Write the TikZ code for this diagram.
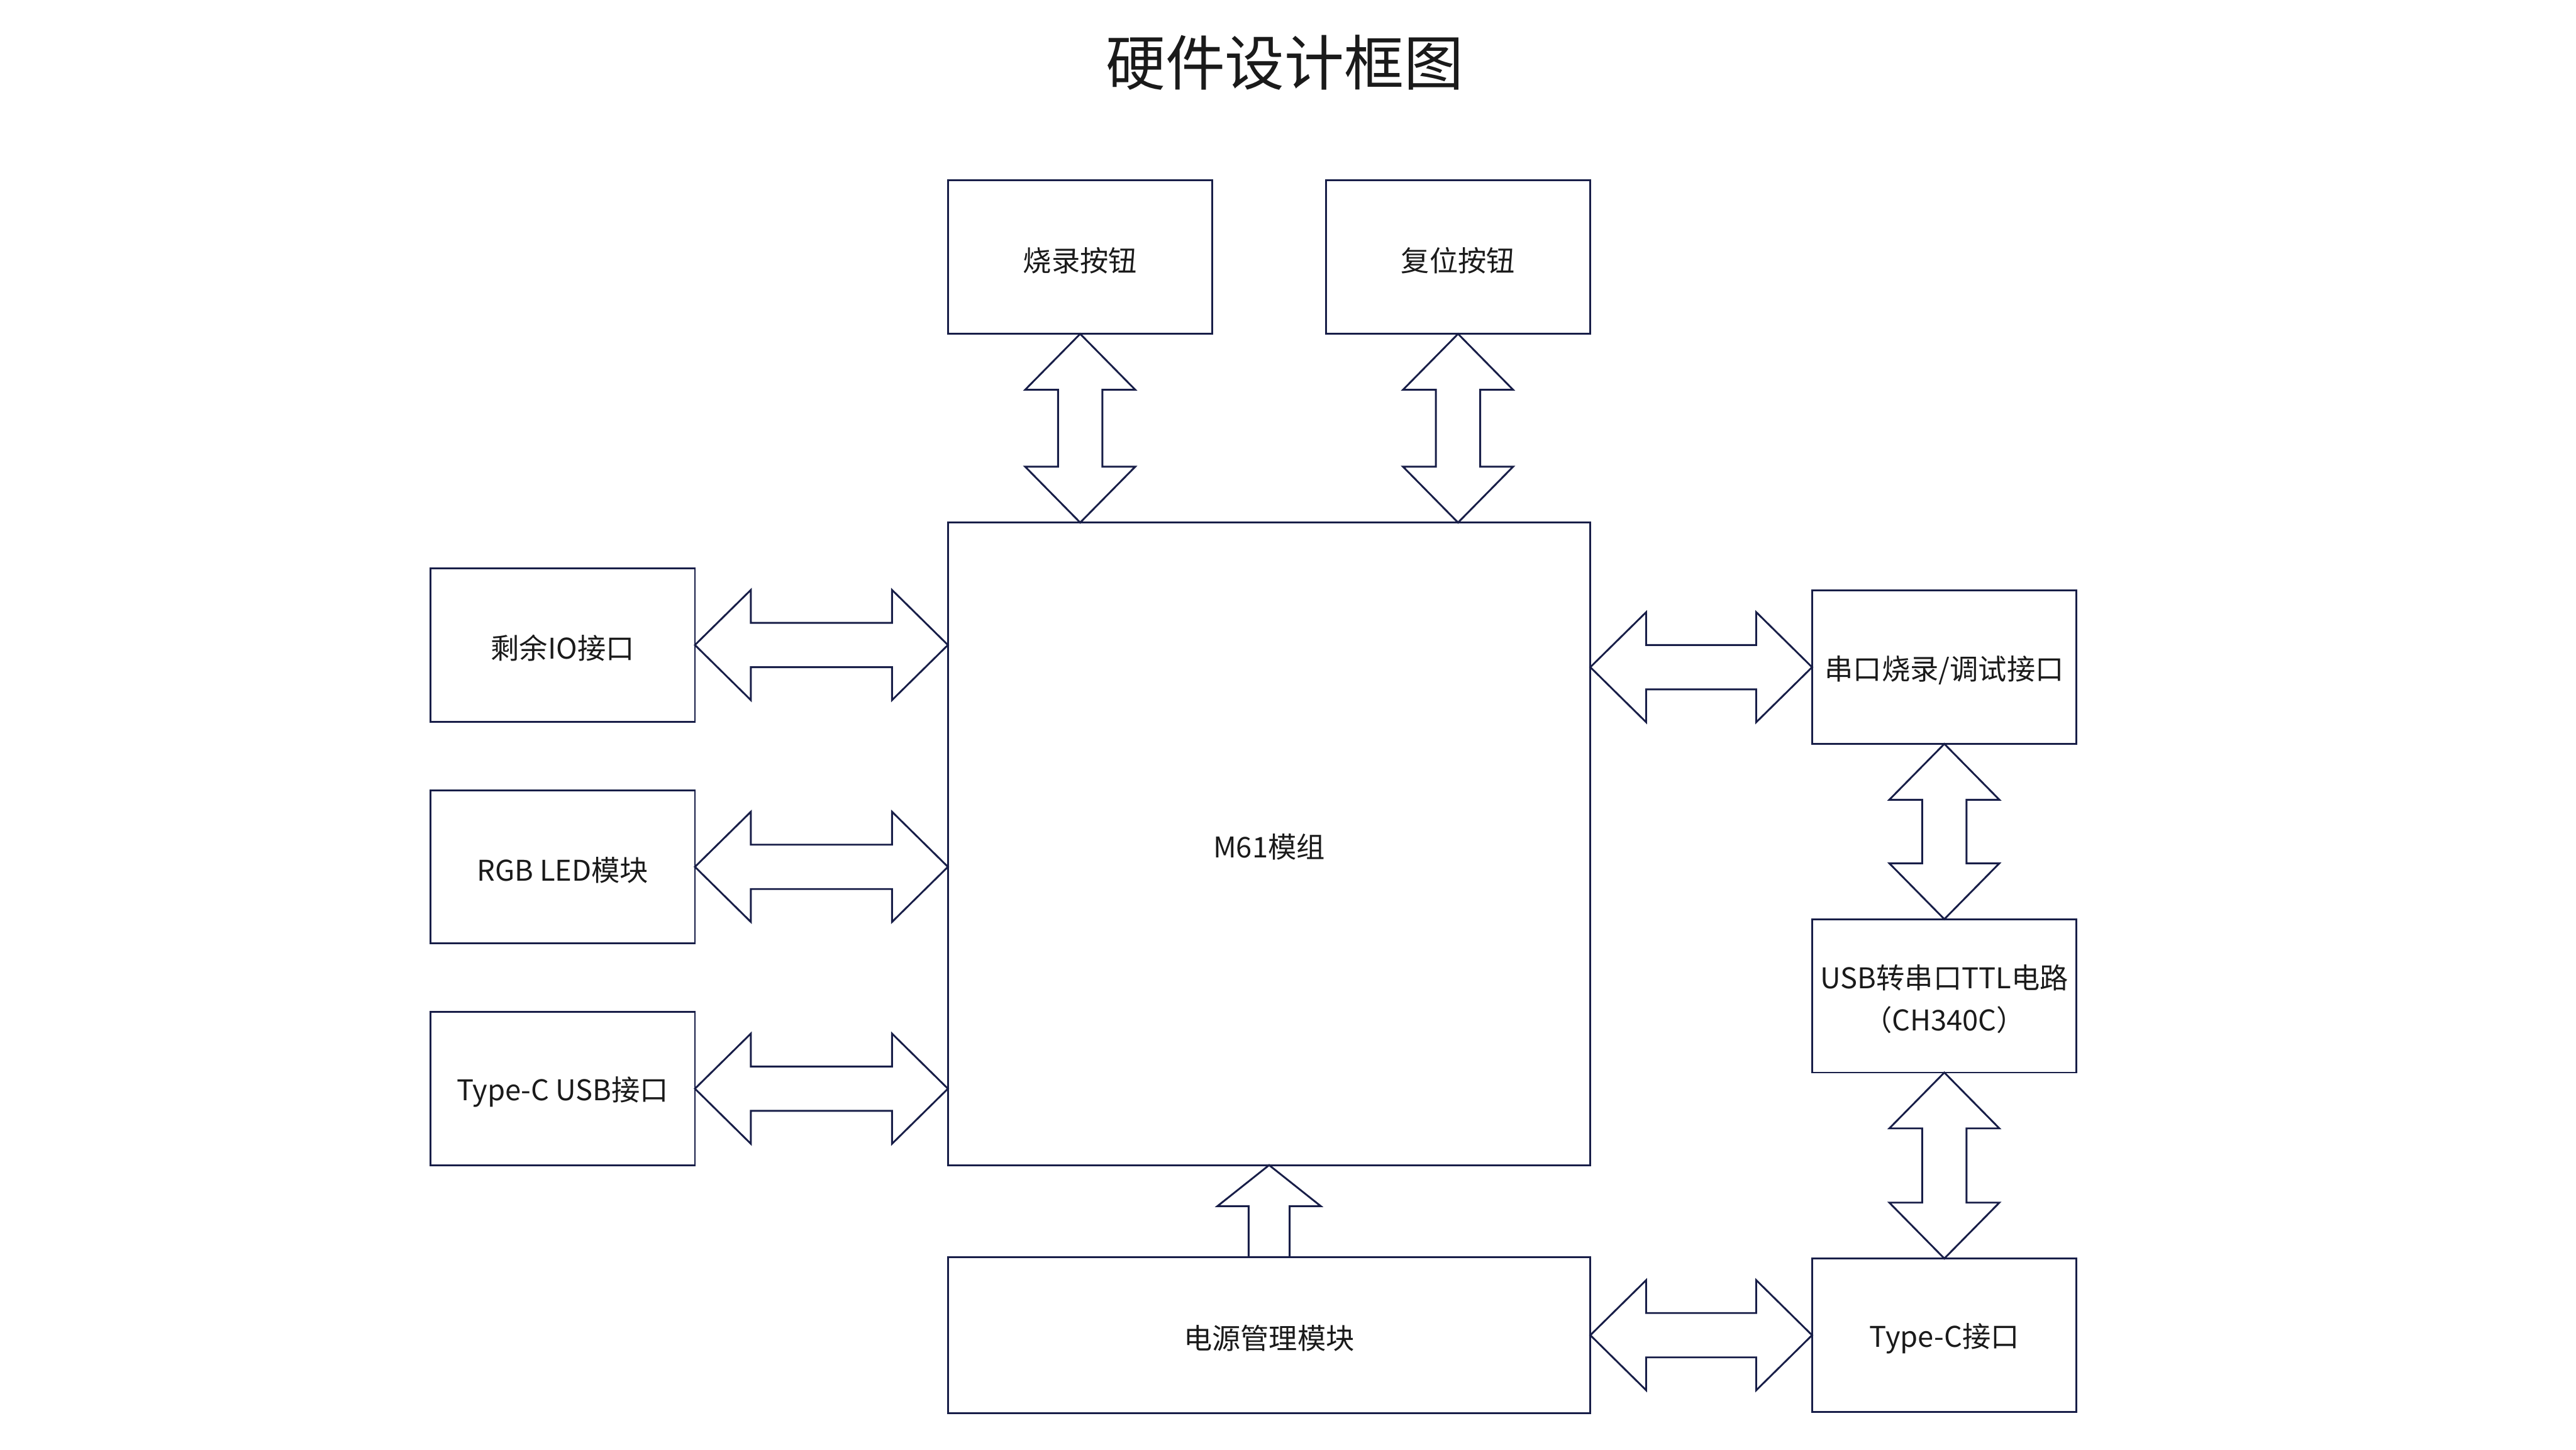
\documentclass[tikz,border=0pt]{standalone}
\usepackage{fontspec}
\setmainfont{Noto Sans CJK SC}
\usetikzlibrary{calc}
\definecolor{boxline}{RGB}{24,30,72}
\definecolor{txt}{RGB}{26,26,26}

% hollow double arrows, left tip #1 to right tip #2 / top tip #1 to bottom tip #2
\newcommand{\hdarrow}[2]{%
  \draw[arrowline] (#1) -- ($(#1)+(34,-33.5)$) -- ($(#1)+(34,-13.5)$) -- ($(#2)+(-34,-13.5)$) -- ($(#2)+(-34,-33.5)$) -- (#2)
    -- ($(#2)+(-34,33.5)$) -- ($(#2)+(-34,13.5)$) -- ($(#1)+(34,13.5)$) -- ($(#1)+(34,33.5)$) -- cycle;}
\newcommand{\vdarrow}[2]{%
  \draw[arrowline] (#1) -- ($(#1)+(33.5,34)$) -- ($(#1)+(13.5,34)$) -- ($(#2)+(13.5,-34)$) -- ($(#2)+(33.5,-34)$) -- (#2)
    -- ($(#2)+(-33.5,-34)$) -- ($(#2)+(-13.5,-34)$) -- ($(#1)+(-13.5,34)$) -- ($(#1)+(-33.5,34)$) -- cycle;}

\begin{document}
\begin{tikzpicture}[x=0.03cm,y=-0.03cm,
    box/.style={draw=boxline,line width=0.95pt,text=txt,inner sep=0pt,outer sep=0pt,
      align=center,font=\fontsize{14.8pt}{22pt}\selectfont,minimum width=4.83cm,minimum height=2.8cm},
    lbl/.style={text=txt,inner sep=0pt,align=center,font=\fontsize{14.8pt}{22pt}\selectfont},
    arrowline/.style={draw=boxline,line width=0.95pt,fill=white}]
	\useasboundingbox (0,0) rectangle (1568,882);
	\coordinate (T) at (782,38);
	\node[text=txt,font=\fontsize{31pt}{36pt}\selectfont] (title) at (T) {硬件设计框图};
	% top row
	\node[box] (burn) at (657.5,156.5) {};
	\node[box] (reset) at (887.5,156.5) {};
	% module
	\node[box,minimum width=11.73cm,minimum height=11.73cm] (m61) at (772.5,513.5) {};
	% left column
	\node[box] (io) at (342.5,392.5) {};
	\node[box] (rgb) at (342.5,527.5) {};
	\node[box] (usbc) at (342.5,662.5) {};
	% right column
	\node[box] (uart) at (1183.5,406) {};
	\node[box] (ch340) at (1183.5,606) {};
	\node[box] (typec) at (1183.5,812.5) {};
	% bottom
	\node[box,minimum width=11.73cm,minimum height=2.85cm] (power) at (772.5,812.5) {};
	% labels, a little below the box centres
	\node[lbl] (burnt) at ($(burn)+(0,2)$) {烧录按钮};
	\node[lbl] (resett) at ($(reset)+(0,2)$) {复位按钮};
	\node[lbl] (m61t) at ($(m61)+(0,2)$) {M61模组};
	\node[lbl] (iot) at ($(io)+(0,2)$) {剩余IO接口};
	\node[lbl] (rgbt) at ($(rgb)+(0,2)$) {RGB LED模块};
	\node[lbl] (usbct) at ($(usbc)+(0,2)$) {Type-C USB接口};
	\node[lbl] (uartt) at ($(uart)+(0,2)$) {串口烧录/调试接口};
	\node[lbl] (ch340t) at ($(ch340)+(0,2)$) {USB转串口TTL电路\\（CH340C）};
	\node[lbl] (typect) at ($(typec)+(0,2)$) {Type-C接口};
	\node[lbl] (powert) at ($(power)+(0,2)$) {电源管理模块};
	% arrows
	\vdarrow{burn.south}{burn.south |- m61.north}
	\vdarrow{reset.south}{reset.south |- m61.north}
	\hdarrow{io.east}{io.east -| m61.west}
	\hdarrow{rgb.east}{rgb.east -| m61.west}
	\hdarrow{usbc.east}{usbc.east -| m61.west}
	\hdarrow{uart.west -| m61.east}{uart.west}
	\vdarrow{uart.south}{ch340.north}
	\vdarrow{ch340.south}{typec.north}
	\hdarrow{power.east}{typec.west}
	\coordinate (P) at (power.north |- m61.south);
	\draw[arrowline] (P) -- ($(P)+(31.5,25)$) -- ($(P)+(12.5,25)$) -- ($(power.north)+(12.5,0)$)
		-- ($(power.north)+(-12.5,0)$) -- ($(P)+(-12.5,25)$) -- ($(P)+(-31.5,25)$) -- cycle;
\end{tikzpicture}
\end{document}
